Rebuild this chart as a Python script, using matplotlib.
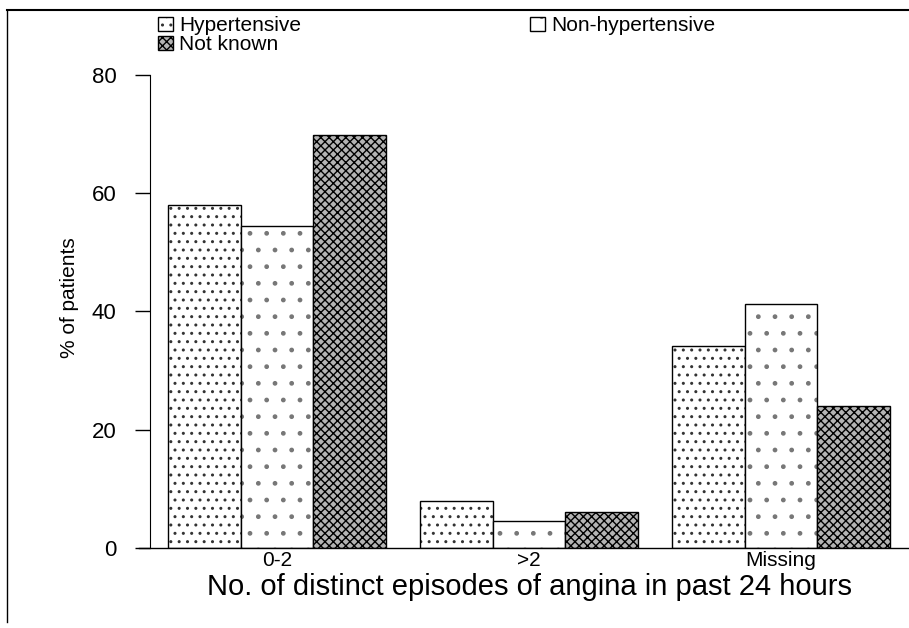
import matplotlib
matplotlib.use("Agg")
import matplotlib.pyplot as plt
import numpy as np
from matplotlib.lines import Line2D

# values (% of patients)
categories = ["0-2", ">2", "Missing"]
hypertensive = [58.0, 8.0, 34.2]
non_hypertensive = [54.4, 4.6, 41.2]
not_known = [69.8, 6.2, 24.0]

series_labels = ["Hypertensive", "Non-hypertensive", "Not known"]
yticks = [0, 20, 40, 60, 80]

plt.rcParams['font.family'] = ['Liberation Sans', 'DejaVu Sans']
plt.rcParams['hatch.linewidth'] = 1.0

fig = plt.figure(figsize=(9.09, 6.28), dpi=100)
ax = fig.add_axes([0.165, 0.127, 0.835, 0.754])

x = np.arange(len(categories))
w = 0.288
# hatch, hatch colour, face colour per series
styles = [('..', '#333333', 'white'),
          ('.', '#777777', 'white'),
          ('xxxx', 'black', '#b4b4b4')]
handles = []
for i, vals in enumerate([hypertensive, non_hypertensive, not_known]):
    hatch, hcol, face = styles[i]
    # hatched fill first, then a plain black outline on top
    b = ax.bar(x + (i - 1) * w, vals, w, color=face, edgecolor=hcol,
               linewidth=0, hatch=hatch)
    o = ax.bar(x + (i - 1) * w, vals, w, fill=False, edgecolor='black', linewidth=1.0)
    handles.append((b, o))

ax.set_xlim(-0.504, 2.508)
ax.set_ylim(0, 80)
ax.set_yticks(yticks)
ax.set_xticks(x)
ax.set_xticklabels(categories)
ax.tick_params(axis='y', length=11, width=1.0, labelsize=16, pad=13)
ax.tick_params(axis='x', length=0, labelsize=15, pad=2)

for s in ['top', 'right', 'bottom']:
    ax.spines[s].set_visible(False)
# baseline sticks out a bit left of the y axis
ax.plot([-0.014, 1.0], [0, 0], transform=ax.transAxes,
        color='black', lw=1.0, clip_on=False)

ax.set_ylabel('% of patients', fontsize=15)
ax.yaxis.set_label_coords(-0.094, 0.53)
ax.set_xlabel('No. of distinct episodes of angina in past 24 hours', fontsize=21, labelpad=2)

# legend: first column Hypertensive / Not known, second Non-hypertensive
leg_handles = [handles[0], handles[2], handles[1]]
labels = [series_labels[0], series_labels[2], series_labels[1]]
fig.legend(leg_handles, labels, loc='upper left', bbox_to_anchor=(0.158, 0.997),
           ncol=2, frameon=False, fontsize=15, handlelength=0.7, handleheight=0.7,
           handletextpad=0.3, labelspacing=0.0, columnspacing=11.0, borderpad=0.2)

# partial frame round the figure
fig.add_artist(Line2D([7 / 909, 1.0], [1 - 10 / 628, 1 - 10 / 628], color='black', lw=1.5))
fig.add_artist(Line2D([7 / 909, 7 / 909], [1 - 10 / 628, 1 - 622 / 628], color='black', lw=1.0))

fig.savefig('out.png', dpi=100)
